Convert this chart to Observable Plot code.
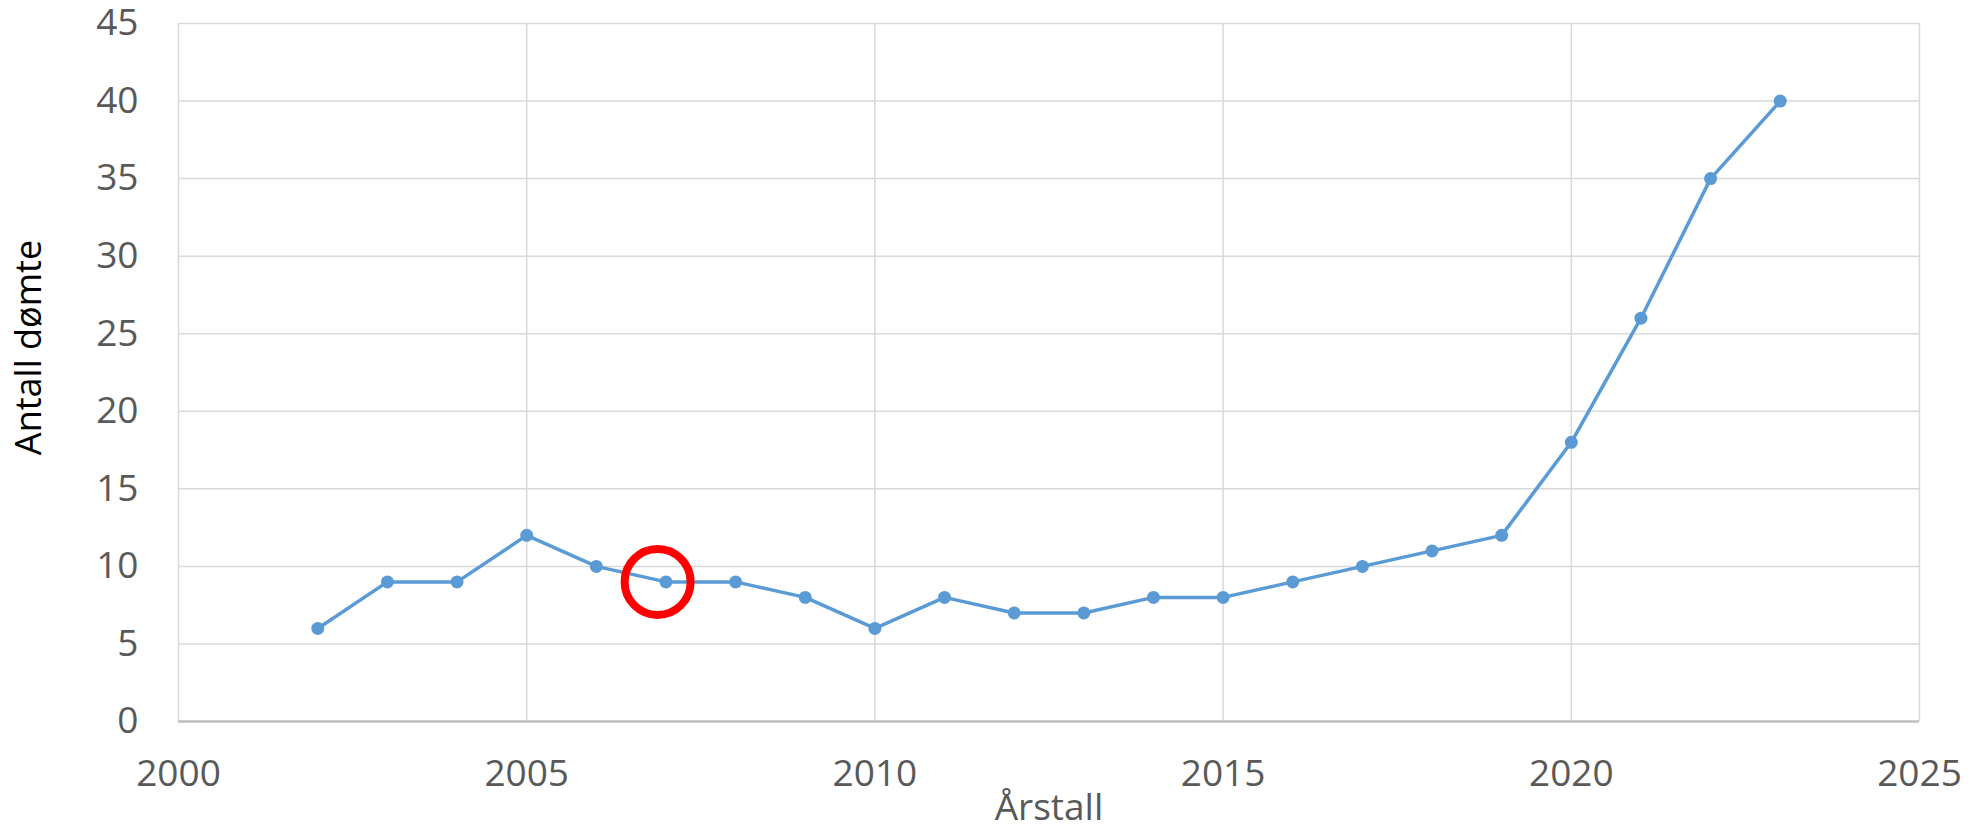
<!DOCTYPE html>
<html>
<head>
<meta charset="utf-8">
<script src="https://cdn.jsdelivr.net/npm/d3@7"></script>
<script src="https://cdn.jsdelivr.net/npm/@observablehq/plot@0.6"></script>
<style>
  html, body { margin: 0; padding: 0; background: #fff; }
  #chart svg { display: block; }
</style>
</head>
<body>
<div id="chart"></div>
<script>
const years  = [2002, 2003, 2004, 2005, 2006, 2007, 2008, 2009, 2010, 2011, 2012, 2013, 2014, 2015, 2016, 2017, 2018, 2019, 2020, 2021, 2022, 2023];
const counts = [6, 9, 9, 12, 10, 9, 9, 8, 6, 8, 7, 7, 8, 8, 9, 10, 11, 12, 18, 26, 35, 40];
const xTicks = [2000, 2005, 2010, 2015, 2020, 2025];
const yTicks = [0, 5, 10, 15, 20, 25, 30, 35, 40, 45];
const markYears  = [2006.88];
const markValues = [9];
const xLabel = "Årstall";
const yLabel = "Antall dømte";

const data = years.map((year, i) => ({year, count: counts[i]}));
const marks = markYears.map((year, i) => ({year, count: markValues[i]}));

const chart = Plot.plot({
  width: 1981,
  height: 831,
  marginLeft: 178,
  marginRight: 62,
  marginTop: 23,
  marginBottom: 110,
  style: {fontFamily: "'Open Sans', sans-serif", background: "#fff"},
  x: {domain: [2000, 2025], ticks: xTicks, tickFormat: d => String(d), label: null},
  y: {domain: [0, 45], ticks: yTicks, label: null},
  marks: [
    Plot.gridX(xTicks, {stroke: "#d9d9d9", strokeOpacity: 1, strokeWidth: 1.5}),
    Plot.gridY(yTicks, {stroke: "#d9d9d9", strokeOpacity: 1, strokeWidth: 1.5}),
    Plot.ruleY([0], {stroke: "#bfbfbf", strokeWidth: 2.5}),
    Plot.axisX(xTicks, {tickSize: 0, tickPadding: 38, fontSize: 37, fill: "#595959", tickFormat: d => String(d), label: xLabel, labelAnchor: "center", labelArrow: "none", labelOffset: 98}),
    Plot.axisY(yTicks, {tickSize: 0, tickPadding: 40, fontSize: 37, fill: "#595959", label: null}),
    Plot.text([yLabel], {frameAnchor: "left", textAnchor: "middle", lineAnchor: "middle", rotate: -90, dx: -149, dy: -25, fontSize: 36, fill: "#000", text: d => d}),
    Plot.line(data, {x: "year", y: "count", stroke: "#5b9bd5", strokeWidth: 3.5}),
    Plot.dot(data, {x: "year", y: "count", r: 6.5, fill: "#5b9bd5"}),
    Plot.dot(marks, {x: "year", y: "count", r: 33, stroke: "#ff0000", strokeWidth: 8, fill: "none"})
  ]
});
document.getElementById("chart").appendChild(chart);
</script>
</body>
</html>
